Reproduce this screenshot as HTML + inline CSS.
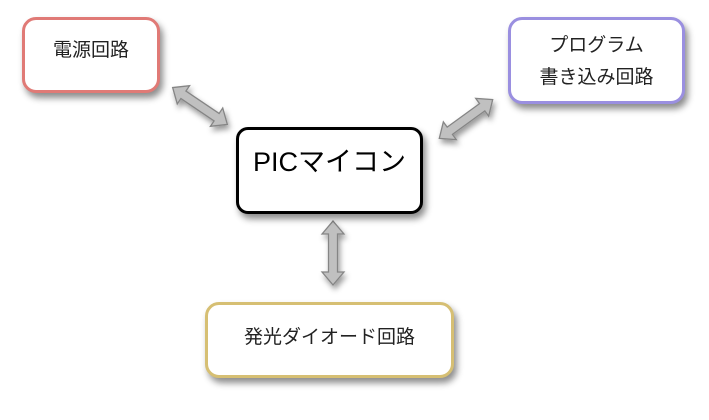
<!DOCTYPE html>
<html><head><meta charset="utf-8"><style>
body{margin:0;background:#fff;width:709px;height:420px;overflow:hidden;position:relative;font-family:"Liberation Sans","Noto Sans CJK JP",sans-serif;}
.b{position:absolute;box-sizing:border-box;background:#fff;border-radius:14px;box-shadow:3px 5px 7px rgba(0,0,0,0.45);text-align:center;color:#222;font-size:19px;}
</style></head><body>
<svg width="709" height="420" style="position:absolute;left:0;top:0">
<defs>
<filter id="s" x="-50%" y="-50%" width="200%" height="200%"><feDropShadow dx="2" dy="4" stdDeviation="3" flood-opacity="0.4"/></filter>
</defs>
<g fill="#c0c0c0" stroke="#858585" stroke-width="1.3" filter="url(#s)">
<g transform="translate(200,106) rotate(34)"><polygon points="-33,0 -20,-11 -20,-4.5 20,-4.5 20,-11 33,0 20,11 20,4.5 -20,4.5 -20,11"/></g>
<g transform="translate(466,119) rotate(-36)"><polygon points="-33,0 -20,-11 -20,-4.5 20,-4.5 20,-11 33,0 20,11 20,4.5 -20,4.5 -20,11"/></g>
<g transform="translate(333,253) rotate(90)"><polygon points="-32,0 -19,-11 -19,-4.5 19,-4.5 19,-11 32,0 19,11 19,4.5 -19,4.5 -19,11"/></g>
</g>
</svg>
<div class="b" style="left:22px;top:17px;width:138px;height:76px;border:3px solid #e07a76;padding-top:19px;line-height:24px;">電源回路</div>
<div class="b" style="left:508px;top:17px;width:177px;height:87px;border:3px solid #9a8fe0;padding-top:10px;line-height:32px;">プログラム<br>書き込み回路</div>
<div class="b" style="left:236px;top:127px;width:187px;height:87px;border:3px solid #000;border-radius:12px;font-size:27px;color:#000;padding-top:15px;line-height:34px;">PICマイコン</div>
<div class="b" style="left:205px;top:302px;width:249px;height:76px;border:3px solid #d6bf73;padding-top:21px;line-height:24px;">発光ダイオード回路</div>
</body></html>
